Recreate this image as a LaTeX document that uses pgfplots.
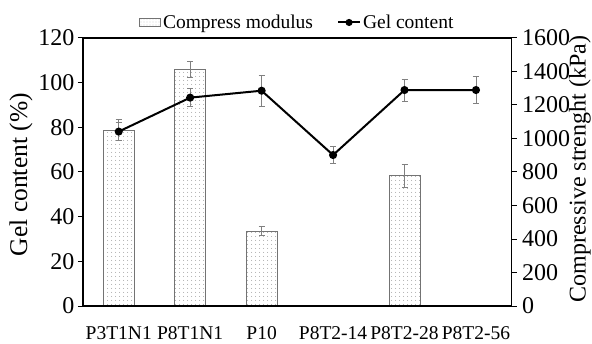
\documentclass[border=0pt]{standalone}
\usepackage{pgfplots}
\pgfplotsset{compat=1.18}
\usepackage{fontspec}
\setmainfont{Liberation Serif}
\usetikzlibrary{patterns.meta}

\begin{document}
\begin{tikzpicture}
\begin{axis}[name=ax1, scale only axis, width=428.7pt, height=268pt,
  xmin=-0.5, xmax=5.5, ymin=0, ymax=1600,
  axis y line*=right, axis x line=none,
  ytick={0,200,...,1600},
  tick align=outside, major tick length=5pt,
  axis line style={line width=1.2pt},
  every tick/.style={black, line width=1pt},
  /pgf/number format/assume math mode=true,
  /pgf/number format/1000 sep={},
  yticklabel style={font=\fontsize{24}{24}\selectfont, xshift=2pt},
  ylabel={Compressive strenght (kPa)},
  every axis y label/.style={at={(axis description cs:1.159,0.51)}, rotate=90, anchor=center, font=\fontsize{24}{24}\selectfont},
]
\addplot[ybar, bar width=31pt, draw=black!55, line width=0.9pt,
  pattern={Dots[distance=4pt,radius=0.55pt]}, pattern color=black!50,
  error bars/.cd, y dir=both, y explicit,
  error bar style={gray, line width=0.7pt},
  error mark options={rotate=90, mark size=3pt, gray, line width=0.7pt}]
  coordinates {(0,1051) +- (0,65) (1,1413) +- (0,50) (2,448) +- (0,25) (4,778) +- (0,67)};
\end{axis}
\begin{axis}[name=ax2, scale only axis, width=428.7pt, height=268pt,
  xmin=-0.5, xmax=5.5, ymin=0, ymax=120,
  ytick={0,20,...,120}, ytick pos=left,
  xtick={0,...,5}, xticklabels={P3T1N1,P8T1N1,P10,P8T2-14,P8T2-28,P8T2-56},
  xtick pos=bottom, major x tick style={draw=none},
  tick align=outside, major tick length=5pt,
  axis line style={line width=1.2pt},
  every tick/.style={black, line width=1pt},
  /pgf/number format/assume math mode=true,
  yticklabel style={font=\fontsize{24}{24}\selectfont},
  xticklabel style={font=\fontsize{19.5}{19.5}\selectfont, yshift=-12pt},
  ylabel={Gel content (\%)},
  every axis y label/.style={at={(axis description cs:-0.1446,0.49)}, rotate=90, anchor=center, font=\fontsize{25.5}{25.5}\selectfont},
  legend style={at={(axis description cs:0.5,1.058)}, anchor=center, draw=none, fill=none,
    legend columns=2, font=\fontsize{19.5}{19.5}\selectfont,
    /tikz/every even column/.append style={column sep=22pt}},
]
\addlegendimage{legend image code/.code={\draw[draw=black!55, line width=0.8pt, pattern={Dots[distance=3pt,radius=0.45pt]}, pattern color=black!50] (0pt,-4pt) rectangle (21pt,4.5pt);}}
\addlegendentry{Compress modulus}
\addplot[black, line width=2pt, mark=*, mark size=3pt,
  legend image code/.code={\draw[black,line width=2pt] (0pt,0pt) -- (22pt,0pt); \fill[black] (11pt,0pt) circle (2.5pt);},
  error bars/.cd, y dir=both, y explicit,
  error bar style={gray, line width=0.7pt},
  error mark options={rotate=90, mark size=3pt, gray, line width=0.7pt}]
  coordinates {(0,78.1) +- (0,4) (1,93.3) +- (0,4) (2,96.4) +- (0,7) (3,67.6) +- (0,3.9) (4,96.7) +- (0,4.9) (5,96.7) +- (0,6)};
\addlegendentry{Gel content}
\end{axis}
\pgfresetboundingbox
\path (ax2.south west) ++(-83pt,-37pt) rectangle ++(592pt,343pt);
\end{tikzpicture}
\end{document}
